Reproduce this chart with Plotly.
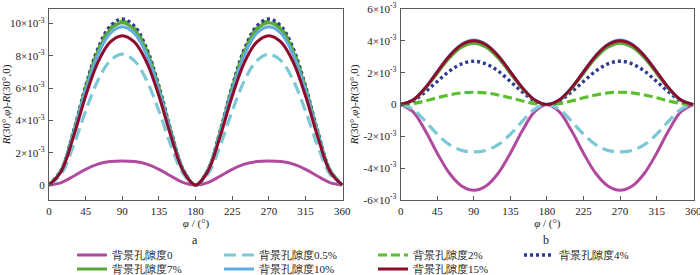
import plotly.graph_objects as go

# ---------------- data (values in units of 1e-3) ----------------
phi = [0, 15, 30, 45, 60, 75, 90, 105, 120, 135, 150, 165, 180,
       195, 210, 225, 240, 255, 270, 285, 300, 315, 330, 345, 360]

names = ["背景孔隙度0", "背景孔隙度0.5%", "背景孔隙度2%", "背景孔隙度4%",
         "背景孔隙度7%", "背景孔隙度10%", "背景孔隙度15%"]

a_p0 = [0, 0.15, 0.54, 0.97, 1.29, 1.45, 1.49, 1.45, 1.29, 0.97, 0.54, 0.15, 0,
        0.15, 0.54, 0.97, 1.29, 1.45, 1.49, 1.45, 1.29, 0.97, 0.54, 0.15, 0]
a_p05 = [0, 0.67, 2.42, 4.58, 6.47, 7.69, 8.10, 7.69, 6.47, 4.58, 2.42, 0.67, 0,
         0.67, 2.42, 4.58, 6.47, 7.69, 8.10, 7.69, 6.47, 4.58, 2.42, 0.67, 0]
a_p2 = [0, 0.92, 3.27, 6.05, 8.34, 9.71, 10.15, 9.71, 8.34, 6.05, 3.27, 0.92, 0,
        0.92, 3.27, 6.05, 8.34, 9.71, 10.15, 9.71, 8.34, 6.05, 3.27, 0.92, 0]
a_p4 = [0, 0.93, 3.31, 6.12, 8.44, 9.83, 10.28, 9.83, 8.44, 6.12, 3.31, 0.93, 0,
        0.93, 3.31, 6.12, 8.44, 9.83, 10.28, 9.83, 8.44, 6.12, 3.31, 0.93, 0]
a_p7 = [0, 0.91, 3.24, 5.99, 8.26, 9.62, 10.05, 9.62, 8.26, 5.99, 3.24, 0.91, 0,
        0.91, 3.24, 5.99, 8.26, 9.62, 10.05, 9.62, 8.26, 5.99, 3.24, 0.91, 0]
a_p10 = [0, 0.89, 3.16, 5.84, 8.05, 9.38, 9.80, 9.38, 8.05, 5.84, 3.16, 0.89, 0,
         0.89, 3.16, 5.84, 8.05, 9.38, 9.80, 9.38, 8.05, 5.84, 3.16, 0.89, 0]
a_p15 = [0, 0.84, 2.98, 5.51, 7.60, 8.85, 9.25, 8.85, 7.60, 5.51, 2.98, 0.84, 0,
         0.84, 2.98, 5.51, 7.60, 8.85, 9.25, 8.85, 7.60, 5.51, 2.98, 0.84, 0]

b_p0 = [0, -0.45, -1.62, -3.06, -4.32, -5.12, -5.39, -5.12, -4.32, -3.06, -1.62, -0.45, 0,
        -0.45, -1.62, -3.06, -4.32, -5.12, -5.39, -5.12, -4.32, -3.06, -1.62, -0.45, 0]
b_p05 = [0, -0.29, -1.03, -1.87, -2.52, -2.88, -2.98, -2.88, -2.52, -1.87, -1.03, -0.29, 0,
         -0.29, -1.03, -1.87, -2.52, -2.88, -2.98, -2.88, -2.52, -1.87, -1.03, -0.29, 0]
b_p2 = [0, 0.06, 0.22, 0.42, 0.60, 0.73, 0.77, 0.73, 0.60, 0.42, 0.22, 0.06, 0,
        0.06, 0.22, 0.42, 0.60, 0.73, 0.77, 0.73, 0.60, 0.42, 0.22, 0.06, 0]
b_p4 = [0, 0.22, 0.78, 1.45, 2.10, 2.55, 2.72, 2.55, 2.10, 1.45, 0.78, 0.22, 0,
        0.22, 0.78, 1.45, 2.10, 2.55, 2.72, 2.55, 2.10, 1.45, 0.78, 0.22, 0]
b_p7 = [0, 0.26, 0.98, 1.95, 2.92, 3.60, 3.85, 3.60, 2.92, 1.95, 0.98, 0.26, 0,
        0.26, 0.98, 1.95, 2.92, 3.60, 3.85, 3.60, 2.92, 1.95, 0.98, 0.26, 0]
b_p10 = [0, 0.28, 1.04, 2.06, 3.08, 3.79, 4.05, 3.79, 3.08, 2.06, 1.04, 0.28, 0,
         0.28, 1.04, 2.06, 3.08, 3.79, 4.05, 3.79, 3.08, 2.06, 1.04, 0.28, 0]
b_p15 = [0, 0.28, 1.03, 2.05, 3.05, 3.75, 4.00, 3.75, 3.05, 2.05, 1.03, 0.28, 0,
         0.28, 1.03, 2.05, 3.05, 3.75, 4.00, 3.75, 3.05, 2.05, 1.03, 0.28, 0]

x_ticks = [0, 45, 90, 135, 180, 225, 270, 315, 360]
a_yticks = [0, 2, 4, 6, 8, 10]
a_ytext = ["0", "2×10<sup>-3</sup>", "4×10<sup>-3</sup>", "6×10<sup>-3</sup>",
           "8×10<sup>-3</sup>", "10×10<sup>-3</sup>"]
b_yticks = [-6, -4, -2, 0, 2, 4, 6]
b_ytext = ["-6×10<sup>-3</sup>", "-4×10<sup>-3</sup>", "-2×10<sup>-3</sup>", "0",
           "2×10<sup>-3</sup>", "4×10<sup>-3</sup>", "6×10<sup>-3</sup>"]

# ---------------- styles ----------------
colors = ["#B04A9E", "#7CC8D6", "#5BBF2E", "#2F3B91", "#5BA83A", "#5FAEE0", "#8E0B2C"]
dashes = ["solid", "12px,6px", "9px,4px", "3px,3px", "solid", "solid", "solid"]
widths = [3, 3.2, 3.2, 3.4, 3, 3, 3]

SERIF = "Times New Roman, Liberation Serif, serif"
FONT_C = "#222222"
AX_C = "#5a5a5a"

a_series = [a_p0, a_p05, a_p2, a_p4, a_p7, a_p10, a_p15]
b_series = [b_p0, b_p05, b_p2, b_p4, b_p7, b_p10, b_p15]
legend_ids = ["legend", "legend2", "legend3", "legend4", "legend5", "legend6", "legend7"]

fig = go.Figure()
for i in range(7):
    fig.add_trace(go.Scatter(
        x=phi, y=a_series[i], mode="lines", name=names[i],
        line=dict(color=colors[i], width=widths[i], dash=dashes[i], shape="spline"),
        xaxis="x", yaxis="y", showlegend=False))
for i in range(7):
    fig.add_trace(go.Scatter(
        x=phi, y=b_series[i], mode="lines", name=names[i],
        line=dict(color=colors[i], width=widths[i], dash=dashes[i], shape="spline"),
        xaxis="x2", yaxis="y2", showlegend=True, legend=legend_ids[i]))

W, H = 700, 275

def px_x(v):
    return v / W

def px_y(v):
    return 1 - v / H

axis_common = dict(
    showline=True, linecolor=AX_C, linewidth=1.2, mirror=True,
    ticks="inside", ticklen=4, tickcolor=AX_C, tickwidth=1,
    showgrid=False, zeroline=False, automargin=False,
    ticklabeloverflow="allow",
    tickfont=dict(family=SERIF, size=11, color=FONT_C),
)

ytitle = "<i>R</i>(30°,<i>φ</i>)-<i>R</i>(30°,0)"
xtitle = "<i>φ</i> / (°)"

fig.update_layout(
    width=W, height=H,
    margin=dict(l=0, r=0, t=0, b=0, autoexpand=False),
    paper_bgcolor="white", plot_bgcolor="white",
    font=dict(family=SERIF, size=11, color=FONT_C),
    xaxis=dict(domain=[px_x(49), px_x(343)], range=[0, 361], tickvals=x_ticks,
               anchor="y", ticklabelstandoff=1,
               title=dict(text=xtitle, standoff=0, font=dict(family=SERIF, size=11)),
               **axis_common),
    yaxis=dict(domain=[px_y(200), px_y(9)], range=[-0.93, 10.9], tickvals=a_yticks,
               ticktext=a_ytext, anchor="x", ticklabelstandoff=1,
               title=dict(text=ytitle, standoff=2, font=dict(family=SERIF, size=11)),
               **axis_common),
    xaxis2=dict(domain=[px_x(400.7), px_x(694)], range=[0, 361], tickvals=x_ticks,
                anchor="y2", ticklabelstandoff=1,
                title=dict(text=xtitle, standoff=0, font=dict(family=SERIF, size=11)),
                **axis_common),
    yaxis2=dict(domain=[px_y(200), px_y(9)], range=[-6, 6], tickvals=b_yticks,
                ticktext=b_ytext, anchor="x2", ticklabelstandoff=1,
                title=dict(text=ytitle, standoff=2, font=dict(family=SERIF, size=11)),
                **axis_common),
)

# legends: one per entry, positioned like the reference grid
leg_pos = [(112, 255), (259, 255), (413, 255), (559, 255),
           (112, 269), (259, 269), (413, 269)]
for lid, (tx, ty) in zip(legend_ids, leg_pos):
    fig.update_layout({lid: dict(
        x=px_x(tx - 40), y=px_y(ty), xanchor="left", yanchor="middle",
        orientation="v", bgcolor="rgba(0,0,0,0)", borderwidth=0,
        font=dict(family=SERIF, size=11, color=FONT_C),
        itemwidth=30,
    )})

for lab, lx in (("a", 195), ("b", 546)):
    fig.add_annotation(text=lab, x=px_x(lx), y=px_y(240), xref="paper", yref="paper",
                       xanchor="center", yanchor="middle", showarrow=False,
                       font=dict(family=SERIF, size=12, color=FONT_C))

fig.write_html("out.html", config={"displayModeBar": False},
               post_script="document.body.style.margin='0';document.body.style.padding='0';")
